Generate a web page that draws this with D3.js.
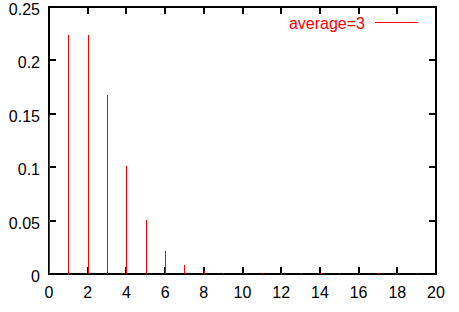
<!DOCTYPE html>
<html>
<head>
<meta charset="utf-8">
<script src="https://cdn.jsdelivr.net/npm/d3@7"></script>
<style>
  body { margin: 0; background: #fff; }
  text { font-family: "Liberation Sans", Arial, sans-serif; font-size: 16px; }
</style>
</head>
<body>
<svg width="459" height="312"></svg>
<script>
// impulses
var xs = [0, 1, 2, 3, 4, 5, 6, 7, 8, 9, 10, 11, 12, 13, 14, 15, 16, 17, 18, 19]
var probs = [0.149, 0.224, 0.224, 0.168, 0.101, 0.0504, 0.0216, 0.0081, 0.0027, 0.0008,
             0.0002, 0.0001, 0, 0, 0, 0, 0, 0, 0, 0]
var xTicks = [0, 2, 4, 6, 8, 10, 12, 14, 16, 18, 20]
var yTicks = [0, 0.05, 0.1, 0.15, 0.2, 0.25]
var legendLabel = 'average=3'

var svg = d3.select('svg')
var x = d3.scaleLinear().domain([0, 20]).range([49, 436])
var y = d3.scaleLinear().domain([0, 0.25]).range([274, 7])

// frame and ticks
var frame = svg.append('g').attr('stroke', 'black').attr('stroke-width', 2)
    .attr('shape-rendering', 'crispEdges')
frame.append('rect')
    .attr('x', x(0)).attr('y', y(0.25))
    .attr('width', x(20) - x(0)).attr('height', y(0) - y(0.25))
    .attr('fill', 'none')

frame.selectAll('line.xb').data(xTicks).enter().append('line')
    .attr('x1', function(d) { return x(d) }).attr('x2', function(d) { return x(d) })
    .attr('y1', y(0)).attr('y2', y(0) - 7)
frame.selectAll('line.xt').data(xTicks).enter().append('line')
    .attr('x1', function(d) { return x(d) }).attr('x2', function(d) { return x(d) })
    .attr('y1', y(0.25)).attr('y2', y(0.25) + 7)
frame.selectAll('line.yl').data(yTicks).enter().append('line')
    .attr('x1', x(0)).attr('x2', x(0) + 7)
    .attr('y1', function(d) { return y(d) }).attr('y2', function(d) { return y(d) })
frame.selectAll('line.yr').data(yTicks).enter().append('line')
    .attr('x1', x(20)).attr('x2', x(20) - 7)
    .attr('y1', function(d) { return y(d) }).attr('y2', function(d) { return y(d) })

// impulses, on top of the frame
svg.selectAll('line.imp')
    .data(xs)
    .enter()
    .append('line')
    .attr('class', 'imp')
    .attr('x1', function(d) { return x(d) + 0.5 })
    .attr('x2', function(d) { return x(d) + 0.5 })
    .attr('y1', y(0))
    .attr('y2', function(d, i) { return Math.min(y(probs[i]), y(0) - 1) })
    .attr('stroke', 'red')
    .attr('stroke-width', 1)
    .attr('shape-rendering', 'crispEdges')

// tick labels
svg.selectAll('text.xl').data(xTicks).enter().append('text')
    .attr('x', function(d) { return x(d) })
    .attr('y', 298)
    .attr('text-anchor', 'middle')
    .text(function(d) { return d })
svg.selectAll('text.yl').data(yTicks).enter().append('text')
    .attr('x', 40)
    .attr('y', function(d) { return y(d) + 8 })
    .attr('text-anchor', 'end')
    .text(function(d) { return d })

// legend
svg.append('text')
    .attr('x', 365).attr('y', 29)
    .attr('text-anchor', 'end')
    .attr('fill', 'red')
    .text(legendLabel)
svg.append('line')
    .attr('x1', 375).attr('x2', 418)
    .attr('y1', 22.5).attr('y2', 22.5)
    .attr('stroke', 'red')
    .attr('shape-rendering', 'crispEdges')
</script>
</body>
</html>
